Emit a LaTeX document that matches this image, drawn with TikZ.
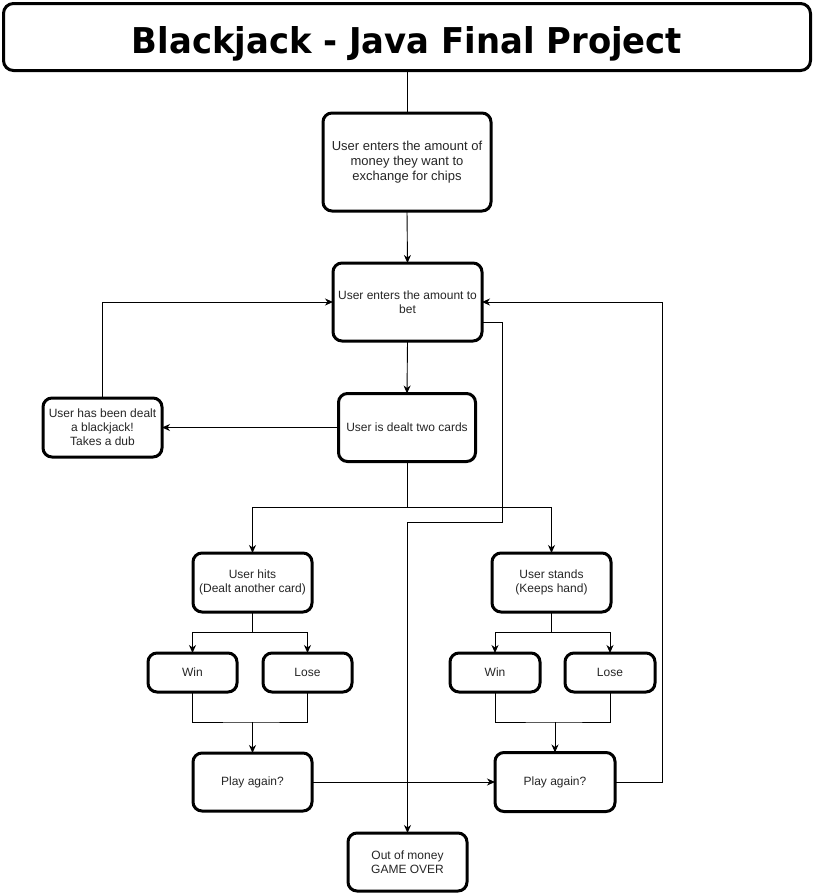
\documentclass[tikz,border=0pt]{standalone}
\usepackage{fontspec}
\setmainfont{Liberation Sans}
\newfontfamily\titlefont{DejaVu Sans}
\usetikzlibrary{arrows.meta,calc}
\begin{document}
\begin{tikzpicture}[x=1pt,y=-1pt,
  box/.style={draw=black,line width=3pt,rounded corners=9pt,fill=white,
    inner sep=2pt,outer sep=0pt,align=center,text=black!85,font=\fontsize{12}{14}\selectfont},
  line/.style={draw=black,line width=0.9pt},
  arr/.style={line,-{Stealth[length=8pt,width=7pt,inset=2.5pt]}}]
\useasboundingbox (0,0) rectangle (814,894);
\node[box,minimum width=807pt,minimum height=67pt,rounded corners=10pt] (title) at (407,37) {};
\node[inner sep=0pt,anchor=base] (ttext) at (407,53)
  {\resizebox{550pt}{27pt}{\titlefont\bfseries Blackjack - Java Final Project}};
\node[box,minimum width=168pt,minimum height=98pt,font=\fontsize{13}{15}\selectfont] (b1) at (407,162)
  {User enters the amount of\\money they want to\\exchange for chips};
\node[box,minimum width=149pt,minimum height=78pt] (b2) at (407.5,302)
  {User enters the amount to\\bet};
\node[box,minimum width=137pt,minimum height=68pt] (b3) at (407,427.5)
  {User is dealt two cards};
\node[box,minimum width=119pt,minimum height=59pt] (bj) at (102.5,427.5)
  {User has been dealt\\a blackjack!\\Takes a dub};
\node[box,minimum width=119pt,minimum height=59pt] (hits) at (252.5,582.5)
  {User hits\\(Dealt another card)};
\node[box,minimum width=119pt,minimum height=59pt] (stands) at (551.5,582.5)
  {User stands\\(Keeps hand)};
\node[box,minimum width=89pt,minimum height=39pt] (winL) at (192.5,672.5) {Win};
\node[box,minimum width=89pt,minimum height=39pt] (loseL) at (307.5,672.5) {Lose};
\node[box,minimum width=90pt,minimum height=39pt] (winR) at (495,672.5) {Win};
\node[box,minimum width=90pt,minimum height=39pt] (loseR) at (610,672.5) {Lose};
\node[box,minimum width=119pt,minimum height=58pt] (playL) at (252.5,782) {Play again?};
\node[box,minimum width=120pt,minimum height=59pt] (playR) at (555,782) {Play again?};
\node[box,minimum width=119pt,minimum height=58pt] (over) at (407.5,862) {Out of money\\GAME OVER};
% connectors
\coordinate (s1) at (407,507);
\coordinate (c1) at (502,522);
\coordinate (m1) at (252.5,722);
\coordinate (m2) at (555,722);
\draw[line] (title.south) -- (b1.north);
\draw[arr] (b1.south) -- (b2.north);
\draw[arr] (b2.south) -- (b3.north);
\draw[arr] (b3.west) -- (bj.east);
\draw[arr] (bj.north) |- (b2.west);
\draw[line] (b3.south) -- (s1);
\draw[arr] (s1) -| (hits.north);
\draw[arr] (s1) -| (stands.north);
\draw[arr] (hits.south) -- ++(0,20) -| (winL.north);
\draw[arr] (hits.south) -- ++(0,20) -| (loseL.north);
\draw[arr] (stands.south) -- ++(0,20) -| (winR.north);
\draw[arr] (stands.south) -- ++(0,20) -| (loseR.north);
\draw[line] (winL.south) |- (m1) -| (loseL.south);
\draw[arr] (m1) -- (playL.north);
\draw[line] (winR.south) |- (m2) -| (loseR.south);
\draw[arr] (m2) -- (playR.north);
\draw[arr] (playL.east) -- (playR.west);
\draw[arr] (playR.east) -- ++(47,0) |- (b2.east);
\draw[arr] ($(b2.east)+(0,20)$) -| (c1) -| (over.north);
\end{tikzpicture}
\end{document}
